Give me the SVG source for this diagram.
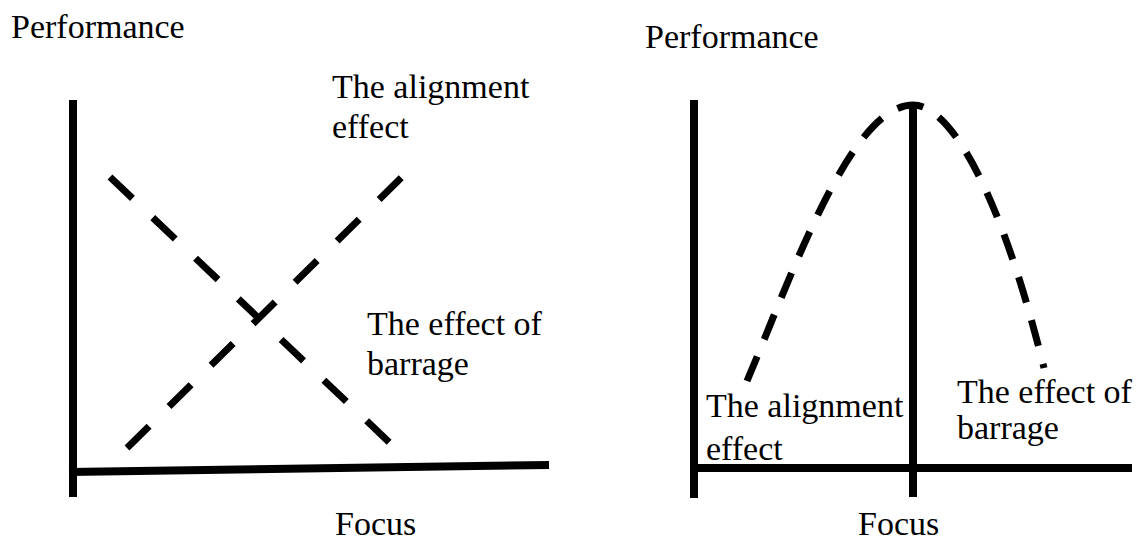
<svg xmlns="http://www.w3.org/2000/svg" width="1140" height="540" viewBox="0 0 1140 540">
<style>
text{font-family:"Liberation Serif","Times New Roman",serif;font-size:34px;fill:#000}
.axis{stroke:#000;stroke-width:8;fill:none;stroke-linecap:butt}
.dash{stroke:#000;stroke-width:7;fill:none;stroke-linecap:butt}
</style>
<rect width="1140" height="540" fill="#fff"/>
<g id="left-chart">
  <g id="left-axes">
    <line class="axis" x1="73" y1="100" x2="73" y2="497"/>
    <line class="axis" x1="69" y1="472" x2="549" y2="465"/>
  </g>
  <g id="left-curves">
    <line class="dash" x1="110" y1="177" x2="390" y2="443" stroke-dasharray="31 28"/>
    <line class="dash" x1="127" y1="448" x2="402" y2="177" stroke-dasharray="31 28"/>
  </g>
  <g id="left-labels">
    <text x="11" y="38">Performance</text>
    <text x="332" y="98">The alignment</text>
    <text x="332" y="138">effect</text>
    <text x="367" y="335">The effect of</text>
    <text x="367" y="375">barrage</text>
    <text x="335" y="535">Focus</text>
  </g>
</g>
<g id="right-chart">
  <g id="right-axes">
    <line class="axis" x1="694" y1="100" x2="694" y2="498"/>
    <line class="axis" x1="913" y1="105" x2="913" y2="497"/>
    <line class="axis" x1="690" y1="468" x2="1132" y2="468"/>
  </g>
  <g id="right-curve">
    <path class="dash" pathLength="620" d="M747,381 C790,280 850,105 913,105 C950,105 1000,190 1044,368" stroke-dasharray="26 18 26 18 26 18 26 18 26 18 26 18 26 18 26 18 26 18 26 18 26 18 26 18 26 18 26 18 4 100"/>
  </g>
  <g id="right-labels">
    <text x="645" y="48">Performance</text>
    <text x="706" y="417">The alignment</text>
    <text x="706" y="460">effect</text>
    <text x="957" y="403">The effect of</text>
    <text x="957" y="439">barrage</text>
    <text x="858" y="535">Focus</text>
  </g>
</g>
</svg>
